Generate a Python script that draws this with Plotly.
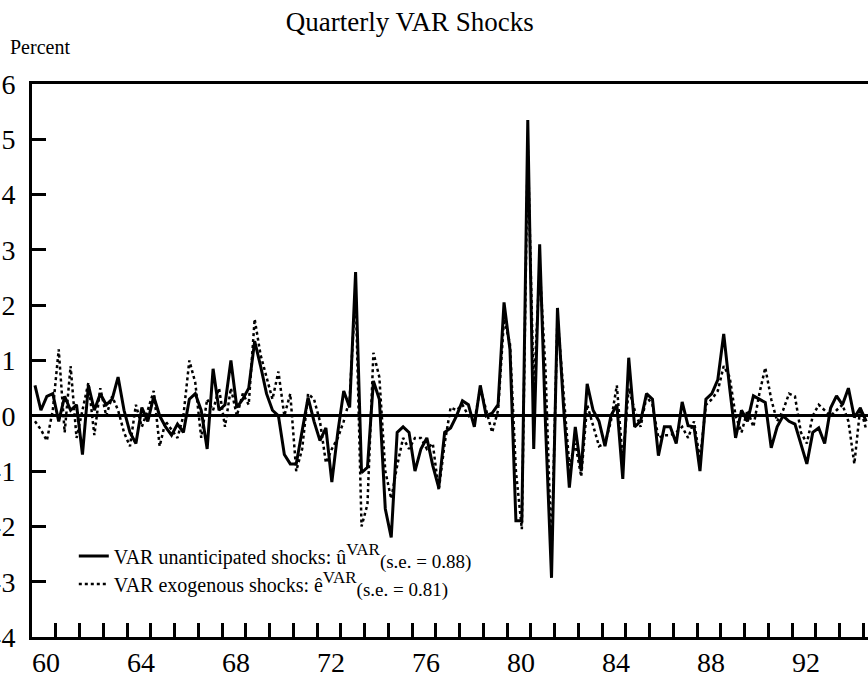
import plotly.graph_objects as go

# Quarterly dates 1960Q1 .. 1995Q1 (plotted mid-quarter)
years = list(range(1960, 1996))
quarters = [y + (q - 0.5) / 4 for y in range(1960, 1995) for q in range(1, 5)] + [1995.125]

# VAR unanticipated shocks (solid)
u_var = [
    0.55, 0.1, 0.35, 0.4, -0.1, 0.35, 0.1, 0.2, -0.7, 0.55,
    0.1, 0.4, 0.2, 0.3, 0.7, 0.1, -0.3, -0.5, 0.15, -0.1,
    0.35, 0.0, -0.2, -0.35, -0.15, -0.3, 0.3, 0.4, 0.1, -0.6,
    0.85, 0.1, 0.2, 1.0, 0.15, 0.3, 0.5, 1.35, 0.9, 0.4,
    0.1, 0.0, -0.7, -0.87, -0.87, -0.3, 0.33, -0.1, -0.45, -0.22,
    -1.2, -0.3, 0.45, 0.15, 2.6, -1.03, -0.93, 0.63, 0.3, -1.68,
    -2.2, -0.3, -0.2, -0.3, -1.0, -0.6, -0.4, -0.9, -1.3, -0.3,
    -0.22, 0.0, 0.27, 0.2, -0.2, 0.55, 0.0, 0.05, 0.2, 2.05,
    1.2, -1.9, -1.9, 5.35, -0.6, 3.1, -0.2, -2.93, 1.95, 0.2,
    -1.3, -0.2, -1.0, 0.58, 0.1, -0.1, -0.55, 0.0, 0.2, -1.14,
    1.05, -0.2, -0.1, 0.4, 0.3, -0.72, -0.2, -0.2, -0.5, 0.25,
    -0.18, -0.2, -1.0, 0.3, 0.4, 0.65, 1.48, 0.5, -0.4, 0.1,
    -0.1, 0.36, 0.3, 0.24, -0.58, -0.2, 0.0, -0.1, -0.15, -0.5,
    -0.87, -0.3, -0.22, -0.5, 0.14, 0.36, 0.2, 0.5, -0.03, 0.14,
    -0.1,
]

# VAR exogenous shocks (dotted)
e_var = [
    -0.1, -0.25, -0.45, 0.1, 1.2, -0.3, 0.9, -0.4, 0.1, 0.6,
    -0.35, 0.5, 0.0, 0.35, 0.1, -0.3, -0.55, 0.2, -0.2, 0.1,
    0.45, -0.55, -0.1, -0.25, -0.4, 0.0, 1.0, 0.6, -0.4, 0.3,
    0.1, 0.5, -0.2, 0.5, 0.0, 0.4, 0.2, 1.75, 1.1, 0.7,
    0.3, 0.8, 0.0, 0.4, -1.0, -0.6, 0.4, 0.3, -0.1, -0.85,
    -0.6, -0.4, -0.1, 0.3, 2.3, -2.0, -1.6, 1.14, 0.7, -1.0,
    -1.5, -0.9, -0.4, -0.6, -0.4, -0.4, -0.6, -0.5, -1.35, -0.5,
    0.15, 0.1, 0.2, 0.0, -0.1, 0.5, 0.1, -0.3, 0.1, 1.75,
    1.3, -1.0, -2.05, 4.9, 0.4, 2.7, 0.8, -2.5, 1.8, 0.5,
    -0.9, -0.5, -1.1, 0.2, -0.2, -0.55, -0.5, -0.1, 0.55, -0.8,
    0.5, 0.1, -0.2, 0.35, 0.2, -0.4, -0.35, -0.35, -0.3, -0.2,
    -0.4, -0.1, -0.8, 0.2, 0.3, 0.45, 0.9, 0.7, 0.0, -0.3,
    0.1, -0.2, 0.4, 0.87, 0.3, -0.1, 0.1, 0.4, 0.35, -0.3,
    -0.5, 0.0, 0.2, 0.1, 0.0, 0.1, 0.2, -0.1, -0.87, 0.15,
    -0.25,
]

y_ticks = [-4, -3, -2, -1, 0, 1, 2, 3, 4, 5, 6]
y_ticktext = ["-4", "-3", "-2", "-1", "0", "1", "2", "3", "4", "5", "6"]
x_ticktext = [str(y)[2:] if (y - 1960) % 4 == 0 and y < 1995 else "" for y in years]

SERIF = "Liberation Serif, Times New Roman, serif"
SUP = "<sup><span style='font-size:17px'>VAR</span></sup>"


def sub(t):
    return "<sub><span style='font-size:19px'>" + t + "</span></sub>"


fig = go.Figure()
fig.add_trace(go.Scatter(
    x=quarters, y=e_var, mode="lines",
    line=dict(color="black", width=2.5, dash="dot"),
    name="VAR exogenous shocks: ê" + SUP + sub("(s.e. = 0.81)"),
    legend="legend2",
))
fig.add_trace(go.Scatter(
    x=quarters, y=u_var, mode="lines",
    line=dict(color="black", width=3),
    name="VAR unanticipated shocks: û" + SUP + sub("(s.e. = 0.88)"),
    legend="legend",
))

leg_common = dict(x=0.05, xanchor="left", yanchor="middle",
                  bgcolor="rgba(0,0,0,0)", font=dict(family=SERIF, size=20, color="black"),
                  itemwidth=30)

fig.update_layout(
    width=868, height=682,
    margin=dict(l=32, r=0, t=84, b=45),
    paper_bgcolor="white", plot_bgcolor="white",
    font=dict(family=SERIF, color="black"),
    title=dict(text="Quarterly VAR Shocks", x=0.472, xanchor="center",
               y=1 - 22 / 682, yanchor="middle",
               font=dict(family=SERIF, size=27, color="black")),
    showlegend=True,
    legend=dict(y=(637 - 556) / 553, **leg_common),
    legend2=dict(y=(637 - 584) / 553, **leg_common),
    xaxis=dict(range=[1960, 1960 + 836 / 23.75], tickvals=years, ticktext=x_ticktext,
               ticks="inside", ticklen=14, tickwidth=2.5, tickcolor="black",
               ticklabelshift=14, ticklabelstandoff=-2,
               showline=True, linewidth=3, linecolor="black", mirror=True,
               showgrid=False, zeroline=False, automargin=False,
               tickfont=dict(family=SERIF, size=28)),
    yaxis=dict(range=[-4, 6], tickvals=y_ticks, ticktext=y_ticktext,
               ticks="inside", ticklen=14, tickwidth=2.5, tickcolor="black",
               ticklabelstandoff=8,
               showline=True, linewidth=3, linecolor="black",
               showgrid=False, zeroline=True, zerolinewidth=3, zerolinecolor="black",
               automargin=False,
               tickfont=dict(family=SERIF, size=28)),
)

fig.add_annotation(text="Percent", xref="paper", yref="paper",
                   x=(8 - 32) / 836, y=(637 - 47) / 553, xanchor="left", yanchor="middle",
                   showarrow=False, font=dict(family=SERIF, size=20, color="black"))

fig.write_html("out.html", config={"displayModeBar": False},
               post_script="document.body.style.margin='0';document.body.style.overflow='hidden';")
